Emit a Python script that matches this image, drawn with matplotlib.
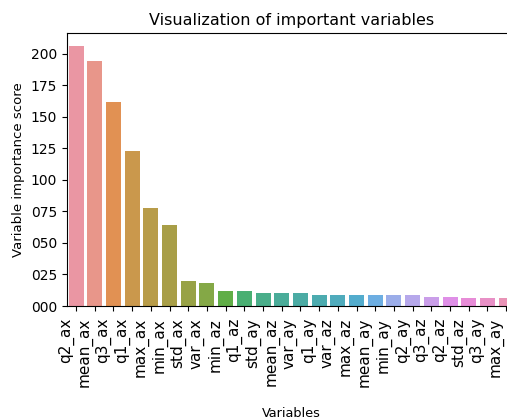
import numpy as np
import pandas as pd
import matplotlib
matplotlib.use("Agg")
import matplotlib.pyplot as plt
import matplotlib.transforms as mtransforms
import seaborn as sns
from matplotlib.ticker import FormatStrFormatter

variables = ["q2_ax", "mean_ax", "q3_ax", "q1_ax", "max_ax", "min_ax", "std_ax",
             "var_ax", "min_az", "q1_az", "std_ay", "mean_az", "var_ay", "q1_ay",
             "var_az", "max_az", "mean_ay", "min_ay", "q2_ay", "q3_az", "q2_az",
             "std_az", "q3_ay", "max_ay"]
scores = [206, 194, 162, 122.5, 78, 64, 19.5, 18.5, 12.2, 12.2, 10.5, 10.5,
          10.5, 8.7, 8.7, 8.7, 8.7, 8.7, 8.7, 7.4, 7.4, 6.0, 6.0, 6.0]

df = pd.DataFrame({"Variables": variables, "score": scores})

fig = plt.figure(figsize=(5.07, 4.19), dpi=100)
ax = fig.add_axes([66.7 / 507, 1 - 306 / 419, (515.5 - 66.7) / 507, (306 - 33) / 419])

sns.barplot(data=df, x="Variables", y="score", hue="Variables",
            palette=sns.husl_palette(len(variables), l=.7), legend=False, ax=ax)

ax.yaxis.set_major_formatter(FormatStrFormatter("%03d"))
ax.tick_params(axis="y", labelsize=10)
ax.tick_params(axis="x", labelsize=11, labelrotation=90, pad=5)

# nudge the rotated category names a little to the left of their ticks
shift = mtransforms.ScaledTranslation(-10 / 100, 0, fig.dpi_scale_trans)
for lab in ax.get_xticklabels():
    lab.set_transform(lab.get_transform() + shift)

ax.set_xlabel("Variables", fontsize=9.3, labelpad=14)
ax.set_ylabel("Variable importance score", fontsize=9.5)
ax.set_title("Visualization of important variables", fontsize=11.5)

fig.savefig("out.png", dpi=100)
